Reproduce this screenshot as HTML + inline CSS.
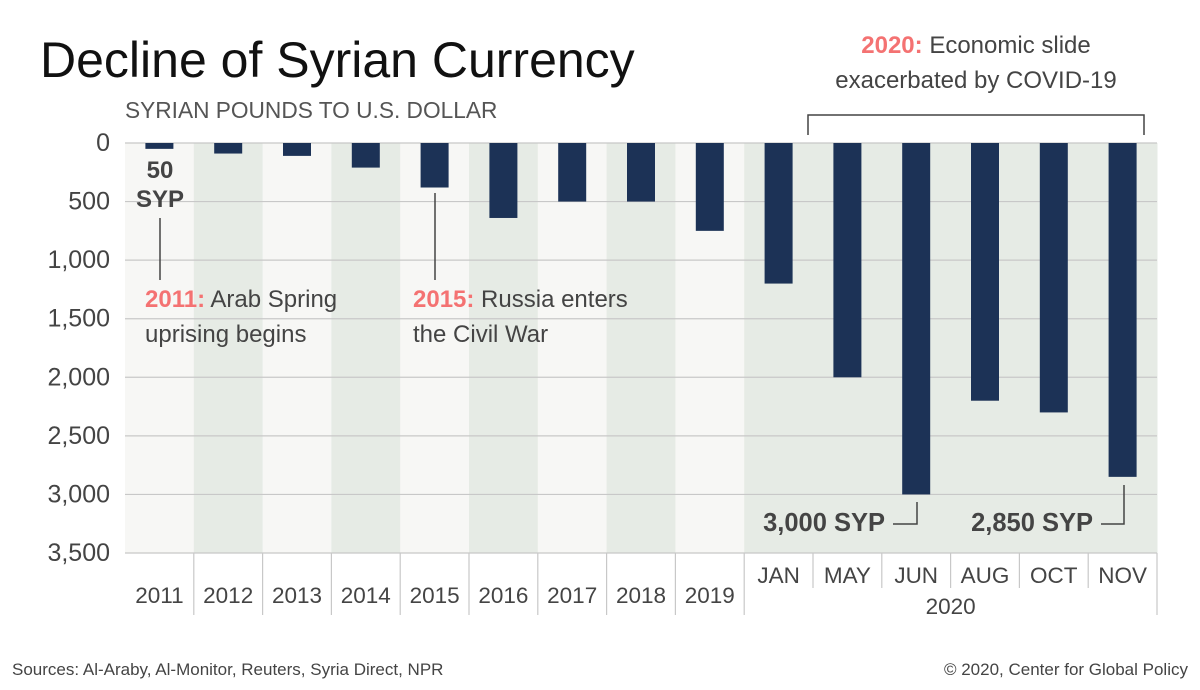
<!DOCTYPE html>
<html><head><meta charset="utf-8"><style>
body{margin:0;background:#fff;}
svg{display:block;font-family:"Liberation Sans",sans-serif;}
</style></head><body>
<svg id="c" width="1200" height="690" viewBox="0 0 1200 690">
<text x="40" y="77" font-size="50" fill="#111">Decline of Syrian Currency</text>
<text x="125" y="118" font-size="22.7" fill="#555">SYRIAN POUNDS TO U.S. DOLLAR</text>
<g id="bg"></g><g id="grid"></g><g id="bars"></g><g id="xlab"></g><g id="ylab"></g>
<g fill="#444" font-size="24">
<text x="160" y="178" text-anchor="middle" font-weight="bold">50</text>
<text x="160" y="207" text-anchor="middle" font-weight="bold">SYP</text>
<line x1="160" y1="218" x2="160" y2="280" stroke="#444" stroke-width="1.5"/>
<text x="145" y="307"><tspan fill="#f47272" font-weight="bold">2011:</tspan> Arab Spring</text>
<text x="145" y="342">uprising begins</text>
<line x1="435" y1="193" x2="435" y2="280" stroke="#444" stroke-width="1.5"/>
<text x="413" y="307"><tspan fill="#f47272" font-weight="bold">2015:</tspan> Russia enters</text>
<text x="413" y="342">the Civil War</text>
<text x="976" y="53" text-anchor="middle"><tspan fill="#f47272" font-weight="bold">2020:</tspan> Economic slide</text>
<text x="976" y="88" text-anchor="middle">exacerbated by COVID-19</text>
<polyline points="808,135 808,115 1144,115 1144,135" fill="none" stroke="#444" stroke-width="1.5"/>
<text x="885" y="531" text-anchor="end" font-weight="bold" font-size="25.5">3,000 SYP</text>
<polyline points="893,524 917,524 917,502" fill="none" stroke="#444" stroke-width="1.5"/>
<text x="1093" y="531" text-anchor="end" font-weight="bold" font-size="25.5">2,850 SYP</text>
<polyline points="1101,524 1124,524 1124,485" fill="none" stroke="#444" stroke-width="1.5"/>
</g>
<text x="12" y="675" font-size="17" fill="#444">Sources: Al-Araby, Al-Monitor, Reuters, Syria Direct, NPR</text>
<text x="1188" y="675" font-size="17" fill="#444" text-anchor="end">© 2020, Center for Global Policy</text>
</svg>
<script>
const categories=["2011","2012","2013","2014","2015","2016","2017","2018","2019","JAN","MAY","JUN","AUG","OCT","NOV"];
const values=[50,90,110,210,380,640,500,500,750,1200,2000,3000,2200,2300,2850];
const yTicks=[0,500,1000,1500,2000,2500,3000,3500];
const yTickLabels=["0","500","1,000","1,500","2,000","2,500","3,000","3,500"];
const NS="http://www.w3.org/2000/svg";
const X0=125,X1=1157,Y0=143,Y1=553,YMAX=3500;
const cw=(X1-X0)/categories.length;
const x=i=>X0+i*cw;
const y=v=>Y0+(v/YMAX)*(Y1-Y0);
function mk(t,a,p){const e=document.createElementNS(NS,t);for(const k in a)e.setAttribute(k,a[k]);document.getElementById(p).appendChild(e);return e;}
categories.forEach((c,i)=>{
  const green=i>=9||i%2===1;
  const r=mk('rect',{x:x(i),y:Y0,width:cw+0.5,height:Y1-Y0,fill:green?'#e6ebe5':'#f7f7f5'},'bg');
  
  
});
yTicks.forEach((v,i)=>{
  const l=mk('line',{x1:X0,x2:X1,y1:y(v),y2:y(v),stroke:'#c8c8c8','stroke-width':1.2},'grid');
  
  
  const t=mk('text',{x:110,y:y(v)+8,'text-anchor':'end','font-size':25,fill:'#444'},'ylab');
  t.textContent=yTickLabels[i];
  
  
});
const bw=28;
values.forEach((v,i)=>{
  const b=mk('rect',{x:x(i)+cw/2-bw/2,y:Y0,width:bw,height:y(v)-Y0,fill:'#1c3256'},'bars');
  
  
});
categories.forEach((c,i)=>{
  const month=i>=9;
  if(i>0){const l=mk('line',{x1:x(i),x2:x(i),y1:Y1,y2:(month&&i>9)?588:615,stroke:'#c8c8c8','stroke-width':1.2},'xlab');
  
  }
  const t=mk('text',{x:x(i)+cw/2,y:month?583:603,'text-anchor':'middle','font-size':22.5,fill:'#444'},'xlab');
  t.textContent=c;
  
  
});
const e=mk('line',{x1:X1,x2:X1,y1:Y1,y2:615,stroke:'#c8c8c8','stroke-width':1.2},'xlab');


const yr=mk('text',{x:(x(9)+X1)/2,y:614,'text-anchor':'middle','font-size':22.5,fill:'#444'},'xlab');
yr.textContent='2020';


</script>
</body></html>
